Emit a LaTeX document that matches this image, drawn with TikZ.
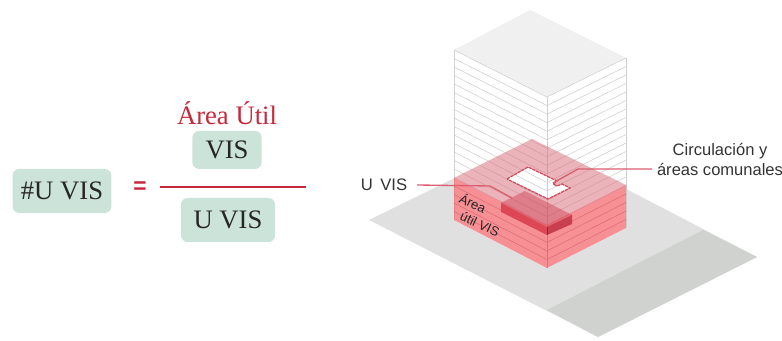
\documentclass[tikz,border=0pt]{standalone}
\usepackage{fontspec}
\setmainfont{Liberation Serif}
\newfontfamily\labelfont{Liberation Sans}
\usetikzlibrary{positioning}
\definecolor{boxgreen}{HTML}{CBE3D9}
\definecolor{areared}{HTML}{C8283C}
\definecolor{leaderred}{HTML}{DB5F70}
\definecolor{groundgray}{HTML}{E0E0E0}
\definecolor{roadgray}{HTML}{D0D2D0}
\definecolor{topgray}{HTML}{F0F0F0}
\definecolor{floorgray}{HTML}{CFCFCF}
\definecolor{floorred}{HTML}{DF7278}
\definecolor{unitleft}{HTML}{DC4655}
\definecolor{unitright}{HTML}{C8404F}
\definecolor{wallred}{HTML}{F4666B}

\begin{document}
\begin{tikzpicture}[x=0.75pt,y=-0.75pt,align=center,
	vnode/.style={rectangle,rounded corners=5pt,fill=boxgreen,text=black!85,font=\fontsize{20}{22}\selectfont},
	lnode/.style={font=\labelfont\fontsize{12.4}{15}\selectfont,text=black!80},
	wnode/.style={font=\labelfont\fontsize{9.8}{12}\selectfont,text=black!85,rotate=-25},
	floorline/.style={draw=floorgray,line width=0.4pt},
	leader/.style={draw=leaderred,line width=1pt}]
		\useasboundingbox (0,0) rectangle (782,341);
		% formula
		\node[vnode,minimum width=74pt,minimum height=33pt] (nuvis) at (62,191){\#U VIS};
		\node[vnode,minimum width=52pt,minimum height=28.5pt] (vis) at (227,150){VIS};
		\node[vnode,minimum width=70.5pt,minimum height=33pt] (uvis) at (228,220){U VIS};
		\node[text=areared,font=\fontsize{20}{22}\selectfont,inner sep=0pt] (autil)[above = 4pt of vis]{Área Útil};
		\node[text=areared,font=\labelfont\bfseries\fontsize{17}{20}\selectfont,inner sep=0pt] (eq) at (140,188){=};
		\coordinate (barl) at (160,187);
		\coordinate (barr) at (306,187);
		\draw[draw=areared,line width=1.5pt] (barl) -- (barr);
		% ground
		\fill[groundgray] (369,220) -- (532,140) -- (757,257) -- (598,337) -- cycle;
		\fill[roadgray] (703,230) -- (757,257) -- (598,337) -- (547,310) -- cycle;
		% tower
		\fill[topgray] (530,10) -- (626,58) -- (547,97) -- (454,50) -- cycle;
		\fill[white] (454,50) -- (547,97) -- (626,58) -- (626,228) -- (547,268) -- (454,220) -- cycle;
		\foreach \i in {0,...,19}{
			\draw[floorline] (454,{50+\i*8.5}) -- (547,{97+\i*8.55}) -- (626,{58+\i*8.5});
		}
		\draw[floorline] (454,50) -- (454,220);
		\draw[floorline] (547,97) -- (547,268);
		\draw[floorline] (626,58) -- (626,228);
		% red floors
		\fill[wallred,fill opacity=.72] (454,178) -- (547,225) -- (626,185) -- (626,228) -- (547,268) -- (454,220) -- cycle;
		\foreach \i in {16,...,19}{
			\draw[draw=floorred,line width=0.4pt] (454,{50+\i*8.5}) -- (547,{97+\i*8.55}) -- (626,{58+\i*8.5});
		}
		\draw[draw=floorred,line width=0.4pt] (547,225) -- (547,268);
		\fill[even odd rule,fill=areared!70!white,fill opacity=.5] (532,139) -- (626,185) -- (547,225) -- (454,178) -- cycle
			(507,179) -- (528,167) -- (557,181) -- (553,184) -- (557,186) -- (562,184) -- (570,188) -- (548,199) -- cycle;
		\draw[draw=areared!85!white,line width=0.9pt,dash pattern=on 2.5pt off 0.6pt] (507,179) -- (528,167) -- (557,181) -- (553,184) -- (557,186) -- (562,184) -- (570,188) -- (548,199) -- cycle;
		% unit
		\fill[areared,fill opacity=.38] (501,203) -- (525,191) -- (572,215) -- (547,227) -- cycle;
		\fill[unitleft] (501,203) -- (547,227) -- (547,235) -- (501,212) -- cycle;
		\fill[unitright] (547,227) -- (572,215) -- (572,224) -- (547,235) -- cycle;
		\draw[draw=black!70,line width=0.5pt] (547,227) -- (547,235);
		% labels
		\node[wnode] (area) at (473,203){Área};
		\node[wnode] (util) at (480,224){útil VIS};
		\node[lnode,font=\labelfont\fontsize{12.5}{15}\selectfont] (uvislbl) at (384,185){U\, VIS};
		\node[lnode] (circ) at (720,159){Circulación y\\áreas comunales};
		\coordinate (uvisa) at (490,186);
		\coordinate (uvisb) at (512,198);
		\coordinate (circa) at (578,169);
		\coordinate (circb) at (553,183);
		\coordinate (circc) at (652,169);
		\coordinate (uvisc) at (417,185);
		\draw[leader] (uvisc) -- (uvisa) -- (uvisb);
		\draw[leader] (circc) -- (circa) -- (circb);
	\end{tikzpicture}
\end{document}
